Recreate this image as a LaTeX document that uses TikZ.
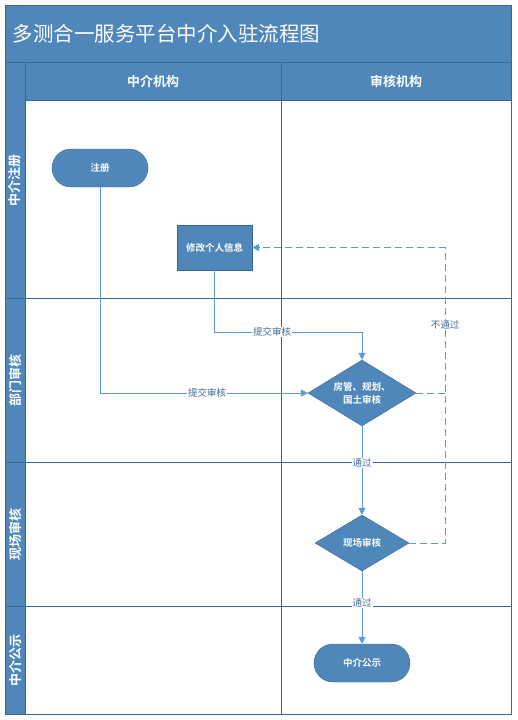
\documentclass[tikz,border=0pt]{standalone}
\usepackage{fontspec}
\setmainfont{Noto Sans CJK SC}[BoldFont={Noto Sans CJK SC Bold}]
\usetikzlibrary{arrows.meta,shapes.geometric,positioning}
\definecolor{laneblue}{RGB}{79,135,186}
\definecolor{edgeblue}{RGB}{58,104,150}
\definecolor{flowblue}{RGB}{91,155,213}
\definecolor{labelblue}{RGB}{63,109,154}
\tikzset{
  terminal/.style={draw=edgeblue, fill=laneblue, rounded corners=19pt, minimum width=96pt, minimum height=38pt, text=white, font=\fontsize{9.5}{11}\selectfont\bfseries},
  process/.style={draw=edgeblue, fill=laneblue, minimum width=75pt, minimum height=45pt, inner sep=2pt, text=white, font=\fontsize{9.5}{11}\selectfont\bfseries},
  decision/.style={diamond, draw=edgeblue, fill=laneblue, aspect=1.64, inner sep=0pt, text=white, align=center, font=\fontsize{9.5}{13}\selectfont\bfseries},
  flow/.style={draw=flowblue, line width=0.8pt, -{Triangle[width=7pt,length=7pt]}},
  backflow/.style={draw=flowblue, line width=1pt, dash pattern=on 7pt off 4pt},
  flowlabel/.style={fill=white, inner sep=1pt, text=labelblue, font=\fontsize{9.5}{11}\selectfont},
  lanetext/.style={text=white, font=\fontsize{13}{15}\selectfont\bfseries}
}
\begin{document}
\begin{tikzpicture}[x=1pt, y=-1pt]
    % 画布与泳道
    \fill[white] (0,0) rectangle (518,720);
    \useasboundingbox (0,0) rectangle (518,720);
    \fill[laneblue] (5,5) rectangle (511,62);
    \fill[laneblue] (5,62) rectangle (25,714);
    \fill[laneblue] (25,62) rectangle (511,100);
    \draw[edgeblue, line width=0.6pt] (5,62) -- (511,62);
    \draw[edgeblue, line width=0.6pt] (25,62) -- (25,714);
    \draw[edgeblue, line width=0.6pt] (25,100) -- (511,100);
    \draw[edgeblue, line width=0.6pt] (281,62) -- (281,714);
    \foreach \yy in {298,462,606}
        \draw[edgeblue, line width=0.6pt] (5,\yy) -- (511,\yy);
    \draw[edgeblue, line width=1pt] (5,5) rectangle (511,714);

    \node[anchor=west, text=white, font=\fontsize{20.5}{24}\selectfont] (title) at (9,34) {多测合一服务平台中介入驻流程图};
    \node[lanetext] (colA) at (153,81) {中介机构};
    \node[lanetext] (colB) at (396,81) {审核机构};
    \node[lanetext, rotate=90] (laneA) at (15,180) {中介注册};
    \node[lanetext, rotate=90] (laneB) at (15,380) {部门审核};
    \node[lanetext, rotate=90] (laneC) at (15,534) {现场审核};
    \node[lanetext, rotate=90] (laneD) at (15,660) {中介公示};

    % 流程节点
    \node[terminal] (reg) at (100,168) {注册};
    \node[process] (edit) at (214.5,247.5) {修改个人信息};
    \node[decision, minimum width=108pt, minimum height=66pt] (dept) at (362,393) {房管、规划、\\国土审核};
    \node[decision, minimum width=94pt, minimum height=56pt] (site) at (362,543) {现场审核};
    \node[terminal] (pub) at (362,663) {中介公示};
    \coordinate (back) at (445,393);
    \coordinate (bend) at (362,332);

    % 连线
    \draw[flow] (reg.south) |- (dept.west);
    \draw[flow] (edit.south) |- (bend) -- (dept.north);
    \draw[flow] (dept.south) -- (site.north);
    \draw[flow] (site.south) -- (pub.north);
    \draw[backflow] (dept.east) -- (back);
    \draw[backflow, -{Triangle[width=7pt,length=7pt]}] (site.east) -| (back) |- (edit.east);

    % 连线标签
    \node[flowlabel] (lblA) at (207,393) {提交审核};
    \node[flowlabel] (lblB) at (272,332) {提交审核};
    \node[flowlabel] (lblC) at (362,463) {通过};
    \node[flowlabel] (lblD) at (362,603) {通过};
    \node[flowlabel] (lblE) at (445,325) {不通过};
\end{tikzpicture}
\end{document}
